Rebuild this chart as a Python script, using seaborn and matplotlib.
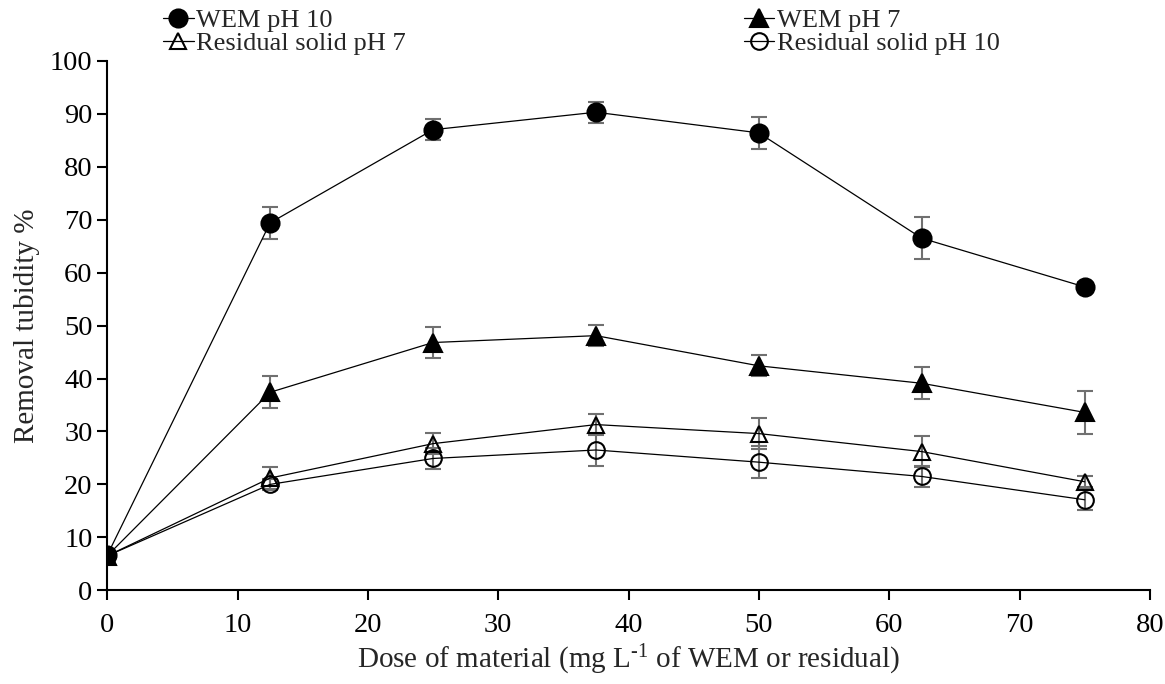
import matplotlib
matplotlib.use("Agg")
import matplotlib.pyplot as plt
import seaborn as sns
import pandas as pd

# Data
dose = [0, 12.5, 25, 37.5, 50, 62.5, 75]

wem_ph10 = [6.6, 69.4, 87.0, 90.3, 86.4, 66.5, 57.3]
wem_ph10_err = [0.5, 3.0, 2.0, 2.0, 3.0, 4.0, 1.0]

wem_ph7 = [6.5, 37.4, 46.8, 48.1, 42.4, 39.1, 33.6]
wem_ph7_err = [0.5, 3.0, 3.0, 2.0, 2.0, 3.0, 4.0]

res_ph7 = [6.5, 21.2, 27.7, 31.3, 29.6, 26.2, 20.5]
res_ph7_err = [0.5, 2.0, 2.0, 2.0, 3.0, 3.0, 1.0]

res_ph10 = [6.5, 20.0, 24.9, 26.5, 24.2, 21.5, 17.1]
res_ph10_err = [0.5, 1.0, 2.0, 3.0, 3.0, 2.0, 2.0]

# name, values, errors, marker, face, draw order
series = [
    ("Residual solid pH 10", res_ph10, res_ph10_err, "o", "none", 3),
    ("Residual solid pH 7", res_ph7, res_ph7_err, "^", "none", 4),
    ("WEM pH 7", wem_ph7, wem_ph7_err, "^", "black", 5),
    ("WEM pH 10", wem_ph10, wem_ph10_err, "o", "black", 6),
]

sns.set_style("ticks")
plt.rcParams["font.family"] = ["Liberation Serif", "DejaVu Serif"]
plt.rcParams["mathtext.fontset"] = "custom"
plt.rcParams["mathtext.rm"] = "Liberation Serif"
plt.rcParams["mathtext.default"] = "regular"

fig = plt.figure(figsize=(11.65, 6.84), dpi=100)
ax = fig.add_axes([0.092, 0.137, 0.895, 0.774])

handles = {}
for name, vals, errs, marker, face, z in series:
    df = pd.DataFrame({"dose": dose, "value": vals})
    ax.errorbar(dose, vals, yerr=errs, fmt="none", ecolor="#707070",
                elinewidth=1.5, capsize=6, capthick=1.5, zorder=2)
    sns.lineplot(data=df, x="dose", y="value", ax=ax, color="black",
                 linewidth=0.9, marker=marker,
                 markersize=13 if face == "black" else 12,
                 markerfacecolor=face, markeredgecolor="black",
                 markeredgewidth=1.5, zorder=z, legend=False)
    handles[name] = ax.lines[-1]

ax.set_xlim(0, 80)
ax.set_ylim(0, 100)
ax.set_xticks(range(0, 81, 10))
ax.set_yticks(range(0, 101, 10))
ax.tick_params(axis="both", direction="out", length=7, width=1.5,
               labelsize=20.5, colors="black")
ax.tick_params(axis="x", pad=9)
for s in ["left", "bottom"]:
    ax.spines[s].set_linewidth(1.5)
    ax.spines[s].set_color("black")
sns.despine(ax=ax)

ax.set_xlabel("Dose of material (mg L$^{\\text{-1}}$ of WEM or residual)",
              fontsize=21, labelpad=4)
ax.set_ylabel("Removal tubidity %", fontsize=21, labelpad=7)

order = ["WEM pH 10", "Residual solid pH 7", "WEM pH 7", "Residual solid pH 10"]
fig.legend([handles[k] for k in order], order, loc="upper left",
           bbox_to_anchor=(0.131, 1.003), ncol=2, frameon=False, fontsize=19,
           handlelength=1.15, handletextpad=0.1, columnspacing=12.8,
           labelspacing=0.0, borderaxespad=0)

fig.savefig("out.png", dpi=100)
